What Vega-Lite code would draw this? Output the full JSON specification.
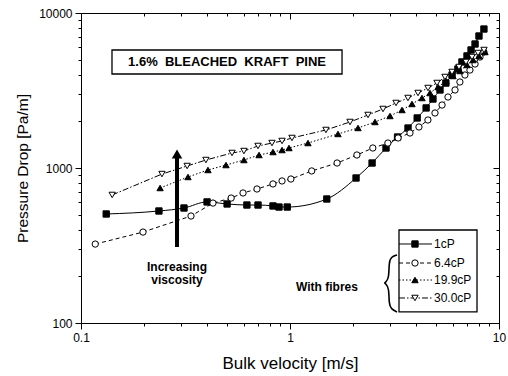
{
  "$schema": "https://vega.github.io/schema/vega-lite/v6.json",
  "width": 418,
  "height": 310,
  "autosize": {"type": "none"},
  "padding": {"left": 81, "top": 13, "right": 9, "bottom": 53},
  "background": "white",
  "config": {
    "view": {"stroke": null},
    "font": "Liberation Sans",
    "axis": {
      "grid": false,
      "domainColor": "black",
      "domainWidth": 1,
      "tickColor": "black",
      "tickWidth": 1,
      "labelColor": "black",
      "labelFontSize": 12,
      "labelFont": "Liberation Sans",
      "titleFont": "Liberation Sans",
      "titleColor": "black",
      "titleFontWeight": "normal",
      "labelOverlap": false,
      "labelFlush": false
    }
  },
  "datasets": {
    "curves": [
      {"series": "1cP", "v": 0.132, "dp": 505},
      {"series": "1cP", "v": 0.236, "dp": 528},
      {"series": "1cP", "v": 0.311, "dp": 552},
      {"series": "1cP", "v": 0.401, "dp": 604},
      {"series": "1cP", "v": 0.5, "dp": 586},
      {"series": "1cP", "v": 0.622, "dp": 577},
      {"series": "1cP", "v": 0.703, "dp": 577},
      {"series": "1cP", "v": 0.829, "dp": 569},
      {"series": "1cP", "v": 0.886, "dp": 560},
      {"series": "1cP", "v": 0.97, "dp": 560},
      {"series": "1cP", "v": 1.5, "dp": 631},
      {"series": "1cP", "v": 2.07, "dp": 862},
      {"series": "1cP", "v": 2.47, "dp": 1077},
      {"series": "1cP", "v": 2.88, "dp": 1346},
      {"series": "1cP", "v": 3.27, "dp": 1585},
      {"series": "1cP", "v": 3.67, "dp": 1811},
      {"series": "1cP", "v": 4.06, "dp": 2103},
      {"series": "1cP", "v": 4.48, "dp": 2440},
      {"series": "1cP", "v": 4.83, "dp": 2786},
      {"series": "1cP", "v": 5.22, "dp": 3187},
      {"series": "1cP", "v": 5.57, "dp": 3532},
      {"series": "1cP", "v": 5.96, "dp": 3981},
      {"series": "1cP", "v": 6.36, "dp": 4352},
      {"series": "1cP", "v": 6.65, "dp": 4831},
      {"series": "1cP", "v": 7.03, "dp": 5284},
      {"series": "1cP", "v": 7.35, "dp": 5773},
      {"series": "1cP", "v": 7.68, "dp": 6310},
      {"series": "1cP", "v": 8.02, "dp": 7106},
      {"series": "1cP", "v": 8.47, "dp": 7880},
      {"series": "6.4cP", "v": 0.117, "dp": 323},
      {"series": "6.4cP", "v": 0.198, "dp": 386},
      {"series": "6.4cP", "v": 0.336, "dp": 490},
      {"series": "6.4cP", "v": 0.428, "dp": 594},
      {"series": "6.4cP", "v": 0.523, "dp": 640},
      {"series": "6.4cP", "v": 0.596, "dp": 690},
      {"series": "6.4cP", "v": 0.695, "dp": 732},
      {"series": "6.4cP", "v": 0.829, "dp": 789},
      {"series": "6.4cP", "v": 0.916, "dp": 825},
      {"series": "6.4cP", "v": 1.01, "dp": 849},
      {"series": "6.4cP", "v": 1.27, "dp": 957},
      {"series": "6.4cP", "v": 1.68, "dp": 1077},
      {"series": "6.4cP", "v": 2.09, "dp": 1213},
      {"series": "6.4cP", "v": 2.49, "dp": 1346},
      {"series": "6.4cP", "v": 2.94, "dp": 1449},
      {"series": "6.4cP", "v": 3.29, "dp": 1562},
      {"series": "6.4cP", "v": 3.75, "dp": 1682},
      {"series": "6.4cP", "v": 4.14, "dp": 1839},
      {"series": "6.4cP", "v": 4.57, "dp": 2040},
      {"series": "6.4cP", "v": 4.94, "dp": 2264},
      {"series": "6.4cP", "v": 5.34, "dp": 2549},
      {"series": "6.4cP", "v": 5.7, "dp": 2871},
      {"series": "6.4cP", "v": 6.16, "dp": 3187},
      {"series": "6.4cP", "v": 6.5, "dp": 3589},
      {"series": "6.4cP", "v": 6.87, "dp": 3981},
      {"series": "6.4cP", "v": 7.26, "dp": 4285},
      {"series": "6.4cP", "v": 7.68, "dp": 4688},
      {"series": "6.4cP", "v": 8.11, "dp": 5200},
      {"series": "6.4cP", "v": 8.47, "dp": 5600},
      {"series": "19.9cP", "v": 0.239, "dp": 743},
      {"series": "19.9cP", "v": 0.325, "dp": 875},
      {"series": "19.9cP", "v": 0.405, "dp": 971},
      {"series": "19.9cP", "v": 0.494, "dp": 1045},
      {"series": "19.9cP", "v": 0.602, "dp": 1126},
      {"series": "19.9cP", "v": 0.711, "dp": 1213},
      {"series": "19.9cP", "v": 0.829, "dp": 1268},
      {"series": "19.9cP", "v": 0.916, "dp": 1306},
      {"series": "19.9cP", "v": 0.989, "dp": 1346},
      {"series": "19.9cP", "v": 1.219, "dp": 1449},
      {"series": "19.9cP", "v": 1.697, "dp": 1658},
      {"series": "19.9cP", "v": 2.116, "dp": 1812},
      {"series": "19.9cP", "v": 2.551, "dp": 1981},
      {"series": "19.9cP", "v": 3.009, "dp": 2165},
      {"series": "19.9cP", "v": 3.435, "dp": 2367},
      {"series": "19.9cP", "v": 3.834, "dp": 2588},
      {"series": "19.9cP", "v": 4.281, "dp": 2829},
      {"series": "19.9cP", "v": 4.676, "dp": 3047},
      {"series": "19.9cP", "v": 5.106, "dp": 3331},
      {"series": "19.9cP", "v": 5.577, "dp": 3641},
      {"series": "19.9cP", "v": 6.025, "dp": 3922},
      {"series": "19.9cP", "v": 6.508, "dp": 4225},
      {"series": "19.9cP", "v": 7.03, "dp": 4618},
      {"series": "19.9cP", "v": 7.511, "dp": 4975},
      {"series": "19.9cP", "v": 8.024, "dp": 5279},
      {"series": "19.9cP", "v": 8.57, "dp": 5603},
      {"series": "30.0cP", "v": 0.141, "dp": 670},
      {"series": "30.0cP", "v": 0.244, "dp": 914},
      {"series": "30.0cP", "v": 0.322, "dp": 1030},
      {"series": "30.0cP", "v": 0.396, "dp": 1126},
      {"series": "30.0cP", "v": 0.528, "dp": 1250},
      {"series": "30.0cP", "v": 0.602, "dp": 1287},
      {"series": "30.0cP", "v": 0.703, "dp": 1387},
      {"series": "30.0cP", "v": 0.82, "dp": 1449},
      {"series": "30.0cP", "v": 0.916, "dp": 1494},
      {"series": "30.0cP", "v": 1.022, "dp": 1562},
      {"series": "30.0cP", "v": 1.486, "dp": 1759},
      {"series": "30.0cP", "v": 1.937, "dp": 1981},
      {"series": "30.0cP", "v": 2.362, "dp": 2198},
      {"series": "30.0cP", "v": 2.786, "dp": 2403},
      {"series": "30.0cP", "v": 3.215, "dp": 2627},
      {"series": "30.0cP", "v": 3.669, "dp": 2829},
      {"series": "30.0cP", "v": 4.097, "dp": 3047},
      {"series": "30.0cP", "v": 4.574, "dp": 3282},
      {"series": "30.0cP", "v": 5.05, "dp": 3535},
      {"series": "30.0cP", "v": 5.515, "dp": 3865},
      {"series": "30.0cP", "v": 5.959, "dp": 4163},
      {"series": "30.0cP", "v": 6.437, "dp": 4483},
      {"series": "30.0cP", "v": 6.953, "dp": 4830},
      {"series": "30.0cP", "v": 7.428, "dp": 5201},
      {"series": "30.0cP", "v": 7.936, "dp": 5518},
      {"series": "30.0cP", "v": 8.478, "dp": 5772}
    ],
    "legendRows": [
      {"series": "1cP", "v": 3.323, "v2": 4.779, "vs": 3.963, "vl": 4.887, "dp": 323.4},
      {"series": "6.4cP", "v": 3.323, "v2": 4.779, "vs": 3.963, "vl": 4.887, "dp": 243.8},
      {"series": "19.9cP", "v": 3.323, "v2": 4.779, "vs": 3.963, "vl": 4.887, "dp": 189.4},
      {"series": "30.0cP", "v": 3.323, "v2": 4.779, "vs": 3.963, "vl": 4.887, "dp": 145.0}
    ],
    "brace": [
      {"o": 1, "v": 3.251, "dp": 274.7},
      {"o": 2, "v": 3.043, "dp": 266.6},
      {"o": 3, "v": 2.976, "dp": 247.5},
      {"o": 4, "v": 2.976, "dp": 195.1},
      {"o": 5, "v": 2.88, "dp": 183.9},
      {"o": 6, "v": 2.818, "dp": 181.2},
      {"o": 7, "v": 2.88, "dp": 178.5},
      {"o": 8, "v": 2.976, "dp": 168.2},
      {"o": 9, "v": 2.976, "dp": 132.6},
      {"o": 10, "v": 3.043, "dp": 123.1},
      {"o": 11, "v": 3.251, "dp": 117.8}
    ],
    "boxes": [
      {"box": "title", "v": 0.1407, "v2": 1.774, "dp": 5772, "dp2": 4042},
      {"box": "legend", "v": 3.323, "v2": 7.848, "dp": 398, "dp2": 117.8}
    ],
    "notes": [
      {"note": "1.6%\u00a0\u00a0BLEACHED\u00a0\u00a0KRAFT\u00a0\u00a0PINE", "v": 0.4996, "dp": 4830},
      {"note": "Increasing", "v": 0.288, "dp": 229.8},
      {"note": "viscosity", "v": 0.288, "dp": 189.4},
      {"note": "With fibres", "v": 1.503, "dp": 170.7}
    ],
    "arrow": [
      {"v": 0.288, "dp": 309.3, "dp2": 1195, "head": 1231}
    ]
  },
  "encoding": {
    "x": {"field": "v", "type": "quantitative", "scale": {"type": "log", "domain": [0.1, 10], "nice": false}, "axis": null},
    "y": {"field": "dp", "type": "quantitative", "scale": {"type": "log", "domain": [100, 10000], "nice": false}, "axis": null}
  },
  "layer": [
    {
      "data": {"name": "curves"},
      "transform": [{"filter": "datum.series !== '1cP'"}],
      "mark": {"type": "line", "color": "black", "strokeWidth": 1},
      "encoding": {
        "strokeDash": {"field": "series", "type": "nominal", "scale": {"domain": ["1cP", "6.4cP", "19.9cP", "30.0cP"], "range": [[1, 0], [4, 3], [1.5, 2], [6, 2, 1.5, 2]]}, "legend": null}
      }
    },
    {
      "data": {"name": "curves"},
      "transform": [{"filter": "datum.series === '1cP'"}],
      "mark": {"type": "line", "color": "black", "strokeWidth": 1, "interpolate": "monotone"},
      "encoding": {}
    },
    {
      "data": {"name": "curves"},
      "mark": {"type": "point", "filled": true, "stroke": "black", "strokeWidth": 1, "size": 40, "opacity": 1},
      "encoding": {
        "x": {
          "field": "v", "type": "quantitative",
          "scale": {"type": "log", "domain": [0.1, 10], "nice": false},
          "axis": {
            "orient": "bottom",
            "title": "Bulk velocity [m/s]",
            "titleFontSize": 17,
            "titlePadding": 12,
            "values": [0.1, 0.2, 0.3, 0.4, 0.5, 0.6, 0.7, 0.8, 0.9, 1, 2, 3, 4, 5, 6, 7, 8, 9, 10],
            "labelExpr": "datum.value == 0.1 ? '0.1' : datum.value == 1 ? '1' : datum.value == 10 ? '10' : ''",
            "tickSize": {"condition": {"test": "indexof([0.1, 1, 10], datum.value) >= 0", "value": 6}, "value": 3},
            "labelPadding": 3
          }
        },
        "y": {
          "field": "dp", "type": "quantitative",
          "scale": {"type": "log", "domain": [100, 10000], "nice": false},
          "axis": {
            "orient": "left",
            "title": "Pressure Drop [Pa/m]",
            "titleFontSize": 15.5,
            "titlePadding": 8,
            "values": [100, 200, 300, 400, 500, 600, 700, 800, 900, 1000, 2000, 3000, 4000, 5000, 6000, 7000, 8000, 9000, 10000],
            "labelExpr": "datum.value == 100 ? '100' : datum.value == 1000 ? '1000' : datum.value == 10000 ? '10000' : ''",
            "tickSize": {"condition": {"test": "indexof([100, 1000, 10000], datum.value) >= 0", "value": 6}, "value": 3},
            "labelPadding": 3
          }
        },
        "shape": {"field": "series", "type": "nominal", "scale": {"domain": ["1cP", "6.4cP", "19.9cP", "30.0cP"], "range": ["square", "circle", "triangle-up", "triangle-down"]}, "legend": null},
        "fill": {"field": "series", "type": "nominal", "scale": {"domain": ["1cP", "6.4cP", "19.9cP", "30.0cP"], "range": ["black", "white", "black", "white"]}, "legend": null}
      }
    },
    {
      "data": {"name": "curves"},
      "mark": {"type": "point", "opacity": 0},
      "encoding": {
        "x": {
          "field": "v", "type": "quantitative",
          "scale": {"type": "log", "domain": [0.1, 10], "nice": false},
          "axis": {
            "orient": "top", "title": null, "labels": false,
            "values": [0.1, 0.2, 0.3, 0.4, 0.5, 0.6, 0.7, 0.8, 0.9, 1, 2, 3, 4, 5, 6, 7, 8, 9, 10],
            "tickSize": {"condition": {"test": "indexof([0.1, 1, 10], datum.value) >= 0", "value": -6}, "value": -3}
          }
        },
        "y": {
          "field": "dp", "type": "quantitative",
          "scale": {"type": "log", "domain": [100, 10000], "nice": false},
          "axis": {
            "orient": "right", "title": null, "labels": false,
            "values": [100, 200, 300, 400, 500, 600, 700, 800, 900, 1000, 2000, 3000, 4000, 5000, 6000, 7000, 8000, 9000, 10000],
            "tickSize": {"condition": {"test": "indexof([100, 1000, 10000], datum.value) >= 0", "value": -6}, "value": -3}
          }
        }
      }
    },
    {
      "data": {"name": "boxes"},
      "mark": {"type": "rect", "filled": false, "stroke": "black", "strokeWidth": 1.3},
      "encoding": {
        "x2": {"field": "v2"},
        "y2": {"field": "dp2"}
      }
    },
    {
      "data": {"name": "notes"},
      "transform": [{"filter": "datum.note !== 'With fibres' && datum.note !== 'Increasing' && datum.note !== 'viscosity'"}],
      "mark": {"type": "text", "fontSize": 13, "fontWeight": "bold", "align": "center", "baseline": "middle", "color": "black"},
      "encoding": {"text": {"field": "note"}}
    },
    {
      "data": {"name": "notes"},
      "transform": [{"filter": "datum.note === 'With fibres' || datum.note === 'Increasing' || datum.note === 'viscosity'"}],
      "mark": {"type": "text", "fontSize": 12, "fontWeight": "bold", "align": "center", "baseline": "middle", "color": "black"},
      "encoding": {"text": {"field": "note"}}
    },
    {
      "data": {"name": "arrow"},
      "mark": {"type": "rule", "color": "black", "strokeWidth": 4},
      "encoding": {"y2": {"field": "dp2"}}
    },
    {
      "data": {"name": "arrow"},
      "mark": {"type": "point", "shape": "triangle-up", "filled": true, "color": "black", "size": 110, "opacity": 1},
      "encoding": {"y": {"field": "head", "type": "quantitative", "scale": {"type": "log", "domain": [100, 10000], "nice": false}, "axis": null}}
    },
    {
      "data": {"name": "legendRows"},
      "mark": {"type": "rule", "color": "black", "strokeWidth": 1},
      "encoding": {
        "x2": {"field": "v2"},
        "strokeDash": {"field": "series", "type": "nominal", "legend": null}
      }
    },
    {
      "data": {"name": "legendRows"},
      "mark": {"type": "point", "filled": true, "stroke": "black", "strokeWidth": 1, "size": 40, "opacity": 1},
      "encoding": {
        "x": {"field": "vs", "type": "quantitative", "scale": {"type": "log", "domain": [0.1, 10], "nice": false}, "axis": null},
        "shape": {"field": "series", "type": "nominal", "legend": null},
        "fill": {"field": "series", "type": "nominal", "legend": null}
      }
    },
    {
      "data": {"name": "legendRows"},
      "mark": {"type": "text", "fontSize": 12, "align": "left", "baseline": "middle", "color": "black"},
      "encoding": {
        "x": {"field": "vl", "type": "quantitative", "scale": {"type": "log", "domain": [0.1, 10], "nice": false}, "axis": null},
        "text": {"field": "series"}
      }
    },
    {
      "data": {"name": "brace"},
      "mark": {"type": "line", "color": "black", "strokeWidth": 1.6, "interpolate": "basis"},
      "encoding": {"order": {"field": "o", "type": "quantitative"}}
    }
  ],
  "resolve": {"axis": {"x": "independent", "y": "independent"}}
}
